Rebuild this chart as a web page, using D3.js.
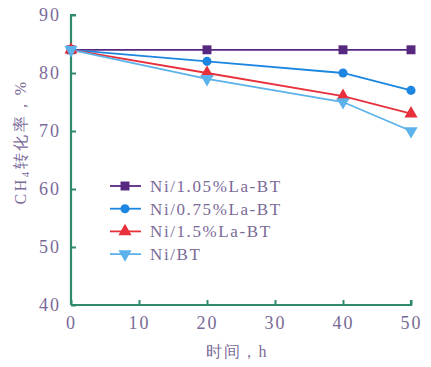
<!DOCTYPE html>
<html><head><meta charset="utf-8">
<script src="https://cdn.jsdelivr.net/npm/d3@7"></script>
<style>body{margin:0;background:#fff}</style>
</head><body>
<svg id="c" width="431" height="367"></svg>
<script>
const xValues = [0, 20, 40, 50];
const seriesNames = ["Ni/1.05%La-BT", "Ni/0.75%La-BT", "Ni/1.5%La-BT", "Ni/BT"];
const s105 = [84, 84, 84, 84];
const s075 = [84, 82, 80, 77];
const s15 = [84, 80, 76, 73];
const sBT = [84, 79, 75, 70];
const xTicks = [0, 10, 20, 30, 40, 50];
const yTicks = [40, 50, 60, 70, 80, 90];

const colors = ["#57287f", "#1c86e0", "#e8303c", "#5cb2ea"];
const symbols = [d3.symbolSquare, d3.symbolCircle, d3.symbolTriangle, d3.symbolTriangle];
const rot = [0, 0, 0, 180];
const sizes = [80, 65, 75, 75];
const data = [s105, s075, s15, sBT];

const svg = d3.select("#c");
const x = d3.scaleLinear().domain([0, 50]).range([71, 411]);
const y = d3.scaleLinear().domain([40, 90]).range([305, 15]);
const axisColor = "#2e8a6c";
const textColor = "#7a6a98";
const font = "'Liberation Serif','DejaVu Serif',serif";

const gx = svg.append("g").attr("transform", "translate(0,305)")
  .call(d3.axisBottom(x).tickValues(xTicks).tickSize(-5).tickPadding(11).tickSizeOuter(0));
const gy = svg.append("g").attr("transform", "translate(71,0)")
  .call(d3.axisLeft(y).tickValues(yTicks).tickSize(-5).tickPadding(10).tickSizeOuter(0));
[gx, gy].forEach(g => {
  g.select(".domain").attr("stroke", axisColor).attr("stroke-width", 2.2);
  g.selectAll(".tick line").attr("stroke", axisColor).attr("stroke-width", 2);
  g.selectAll(".tick text").attr("fill", textColor).style("font-family", font).style("font-size", "18px").style("letter-spacing", "2px");
});
gy.select(".domain").attr("d", `M0,${y(40)}V${y(90)}h5`);
gx.select(".domain").attr("d", `M${x(0)},0H${x(50)}v-5`);

const line = d3.line().x((d, i) => x(xValues[i])).y(d => y(d));
data.forEach((s, k) => {
  svg.append("path").datum(s).attr("d", line).attr("fill", "none")
    .attr("stroke", colors[k]).attr("stroke-width", 1.8);
});
data.forEach((s, k) => {
  svg.selectAll(null).data(s).enter().append("path")
    .attr("d", d3.symbol().type(symbols[k]).size(sizes[k]))
    .attr("transform", (d, i) => `translate(${x(xValues[i])},${y(d)}) rotate(${rot[k]})`)
    .attr("fill", colors[k]);
});

// legend
const lg = svg.append("g");
seriesNames.forEach((n, k) => {
  const yy = 186 + k * 22.7;
  lg.append("line").attr("x1", 110).attr("x2", 141).attr("y1", yy).attr("y2", yy)
    .attr("stroke", colors[k]).attr("stroke-width", 1.8);
  lg.append("path").attr("d", d3.symbol().type(symbols[k]).size(sizes[k]))
    .attr("transform", `translate(125,${yy}) rotate(${rot[k]})`).attr("fill", colors[k]);
  lg.append("text").attr("x", 150).attr("y", yy + 6).text(n)
    .attr("fill", textColor).style("font-family", font).style("font-size", "17px").style("letter-spacing", "1.6px");
});

// axis labels
svg.append("text").attr("x", 237).attr("y", 357).attr("text-anchor", "middle")
  .attr("fill", textColor).style("font-family", font).style("font-size", "16px").style("letter-spacing", "1.5px")
  .text("时间，h");
const yl = svg.append("text").attr("transform", "translate(26,142) rotate(-90)").attr("text-anchor", "middle")
  .attr("fill", textColor).style("font-family", font).style("font-size", "16px").style("letter-spacing", "2.5px");
yl.append("tspan").text("CH");
yl.append("tspan").text("4").style("font-size", "11px").attr("dy", 3);
yl.append("tspan").text("转化率，%").attr("dy", -3);
</script>
</body></html>
